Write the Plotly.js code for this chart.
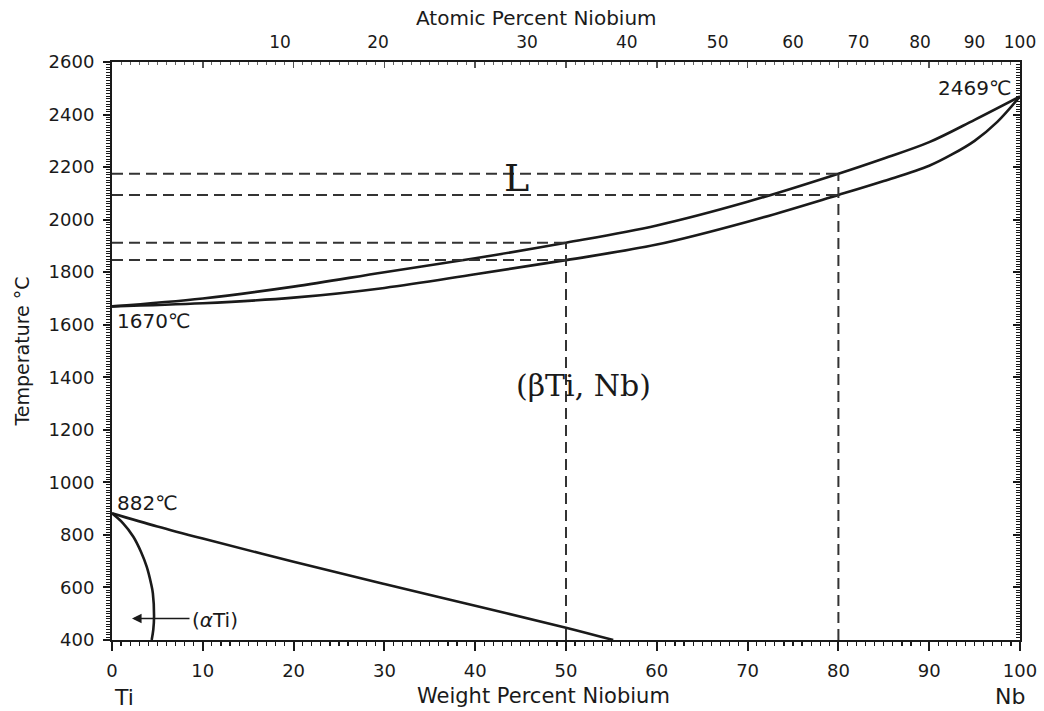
<!DOCTYPE html>
<html>
<head>
<meta charset="utf-8">
<script src="https://cdn.plot.ly/plotly-3.0.1.min.js"></script>
<style>
  html, body { margin: 0; padding: 0; background: #fff; }
  #chart { width: 1044px; height: 711px; }
</style>
</head>
<body>
<div id="chart"></div>
<script>
// Ti–Nb binary phase diagram (weight percent Nb vs temperature)

// Liquidus (upper curve)
const liquidusWt = [0, 10, 20, 30, 40, 50, 60, 70, 80, 85, 90, 95, 100];
const liquidusT  = [1670, 1700, 1745, 1800, 1853, 1912, 1978, 2068, 2175, 2233, 2295, 2380, 2469];

// Solidus (lower curve)
const solidusWt = [0, 10, 20, 30, 40, 50, 60, 70, 80, 85, 90, 92.5, 95, 97.5, 100];
const solidusT  = [1670, 1682, 1703, 1740, 1792, 1846, 1905, 1992, 2094, 2147, 2205, 2248, 2300, 2372, 2469];

// beta transus from 882 °C
const betaWt = [0, 5, 10, 20, 30, 40, 50, 55.2];
const betaT  = [882, 832, 786, 698, 613, 530, 447, 400];

// alpha solvus
const alphaWt = [0, 1.2, 2.35, 3.2, 3.82, 4.3, 4.5, 4.63, 4.55, 4.37];
const alphaT  = [882, 845, 793, 735, 679, 615, 578, 489, 440, 400];

// Alloy compositions with their liquidus / solidus temperatures
const alloyWt  = [50, 80];
const alloyLiq = [1912, 2175];
const alloySol = [1846, 2094];

// Axis ticks
const wtTicks = [0, 10, 20, 30, 40, 50, 60, 70, 80, 90, 100];
const tempTicks = [400, 600, 800, 1000, 1200, 1400, 1600, 1800, 2000, 2200, 2400, 2600];
const atomicLabels = ['10', '20', '30', '40', '50', '60', '70', '80', '90', '100'];
const atomicTickPos = [18.5, 29.3, 45.7, 56.7, 66.7, 75.0, 82.2, 89.0, 95.0, 100];

const INK = '#1a1a1a';
const SANS = 'DejaVu Sans, Liberation Sans, Arial, sans-serif';
const SERIF = 'DejaVu Serif, Liberation Serif, serif';

// Dashed guide lines: horizontals from the T axis to each alloy, verticals down to 400 °C
const guideX = [], guideY = [];
alloyWt.forEach((c, i) => {
  guideX.push(0, c, null, 0, c, null, c, c, null);
  guideY.push(alloyLiq[i], alloyLiq[i], null, alloySol[i], alloySol[i], null, 400, alloyLiq[i], null);
});

const solidLine = { color: INK, width: 2.6, shape: 'spline', smoothing: 1 };

const traces = [
  { x: liquidusWt, y: liquidusT, mode: 'lines', line: solidLine, hoverinfo: 'skip' },
  { x: solidusWt, y: solidusT, mode: 'lines', line: solidLine, hoverinfo: 'skip' },
  { x: betaWt, y: betaT, mode: 'lines', line: solidLine, hoverinfo: 'skip' },
  { x: alphaWt, y: alphaT, mode: 'lines', line: solidLine, hoverinfo: 'skip' },
  { x: guideX, y: guideY, mode: 'lines', connectgaps: false,
    line: { color: '#333', width: 2, dash: '11px,6px' }, hoverinfo: 'skip' },
  // carriers for the secondary axes
  { x: [null], y: [null], xaxis: 'x2', yaxis: 'y', mode: 'lines', hoverinfo: 'skip' },
  { x: [null], y: [null], xaxis: 'x3', yaxis: 'y', mode: 'lines', hoverinfo: 'skip' },
  { x: [null], y: [null], xaxis: 'x', yaxis: 'y2', mode: 'lines', hoverinfo: 'skip' }
];

const tickFont = { family: SANS, size: 18, color: INK };

const layout = {
  width: 1044, height: 711,
  margin: { l: 112, r: 24, t: 62, b: 71 },
  paper_bgcolor: '#fff', plot_bgcolor: '#fff',
  showlegend: false,
  xaxis: {
    range: [0, 100], autorange: false, fixedrange: true,
    tickmode: 'array', tickvals: wtTicks,
    ticks: 'outside', ticklen: 9, tickwidth: 2, tickcolor: INK,
    minor: { dtick: 1, ticks: 'outside', ticklen: 4, tickwidth: 1.2, tickcolor: INK, showgrid: false },
    showline: true, linewidth: 2, linecolor: INK, showgrid: false, zeroline: false,
    tickfont: tickFont, ticklabelstandoff: 4
  },
  xaxis2: {
    overlaying: 'x', side: 'top', anchor: 'y',
    range: [0, 100], autorange: false, fixedrange: true,
    tickmode: 'array', tickvals: wtTicks, showticklabels: false,
    ticks: 'inside', ticklen: 6, tickwidth: 1.5, tickcolor: '#555',
    minor: { dtick: 1, ticks: 'inside', ticklen: 2.5, tickwidth: 1, tickcolor: '#666', showgrid: false },
    showline: true, linewidth: 2, linecolor: INK, showgrid: false, zeroline: false
  },
  xaxis3: {
    overlaying: 'x', side: 'top', anchor: 'y',
    range: [0, 100], autorange: false, fixedrange: true,
    tickmode: 'array', tickvals: atomicTickPos, ticktext: atomicLabels,
    ticks: 'outside', ticklen: 6, tickcolor: 'rgba(0,0,0,0)',
    showline: false, showgrid: false, zeroline: false,
    tickfont: { family: SANS, size: 17, color: INK }
  },
  yaxis: {
    range: [400, 2600], autorange: false, fixedrange: true,
    tickmode: 'array', tickvals: tempTicks,
    ticks: 'outside', ticklen: 7, tickwidth: 2, tickcolor: INK,
    minor: { dtick: 10, ticks: 'outside', ticklen: 4, tickwidth: 1, tickcolor: INK, showgrid: false },
    showline: true, linewidth: 2, linecolor: INK, showgrid: false, zeroline: false,
    tickfont: tickFont, ticklabelstandoff: 5,
    title: { text: 'Temperature °C', font: { family: SANS, size: 19, color: INK }, standoff: 14 }
  },
  yaxis2: {
    overlaying: 'y', side: 'right', anchor: 'x',
    range: [400, 2600], autorange: false, fixedrange: true,
    tickmode: 'array', tickvals: tempTicks, showticklabels: false,
    ticks: 'inside', ticklen: 7, tickwidth: 2, tickcolor: INK,
    minor: { dtick: 10, ticks: 'inside', ticklen: 4, tickwidth: 1, tickcolor: INK, showgrid: false },
    showline: true, linewidth: 2, linecolor: INK, showgrid: false, zeroline: false
  },
  annotations: [
    { text: 'Atomic Percent Niobium', xref: 'x', yref: 'paper', x: 46.7, y: 1.076,
      showarrow: false, font: { family: SANS, size: 20, color: INK }, xanchor: 'center', yanchor: 'middle' },
    { text: 'Weight Percent Niobium', xref: 'x', yref: 'paper', x: 47.5, y: -0.097,
      showarrow: false, font: { family: SANS, size: 21, color: INK }, xanchor: 'center', yanchor: 'middle' },
    { text: 'Ti', xref: 'x', yref: 'paper', x: 1.3, y: -0.1,
      showarrow: false, font: { family: SANS, size: 22, color: INK }, xanchor: 'center', yanchor: 'middle' },
    { text: 'Nb', xref: 'x', yref: 'paper', x: 98.9, y: -0.097,
      showarrow: false, font: { family: SANS, size: 22, color: INK }, xanchor: 'center', yanchor: 'middle' },
    { text: 'L', xref: 'x', yref: 'y', x: 44.6, y: 2158,
      showarrow: false, font: { family: SERIF, size: 38, color: INK }, xanchor: 'center', yanchor: 'middle' },
    { text: '(βTi, Nb)', xref: 'x', yref: 'y', x: 51.9, y: 1370,
      showarrow: false, font: { family: SERIF, size: 30, color: INK }, xanchor: 'center', yanchor: 'middle' },
    { text: '1670℃', xref: 'x', yref: 'y', x: 0.3, y: 1614,
      showarrow: false, font: { family: SANS, size: 20, color: INK }, xanchor: 'left', yanchor: 'middle' },
    { text: '2469℃', xref: 'x', yref: 'y', x: 99.2, y: 2501,
      showarrow: false, font: { family: SANS, size: 20, color: INK }, xanchor: 'right', yanchor: 'middle' },
    { text: '882℃', xref: 'x', yref: 'y', x: 0.3, y: 921,
      showarrow: false, font: { family: SANS, size: 20, color: INK }, xanchor: 'left', yanchor: 'middle' },
    { text: '(<i>α</i>Ti)', xref: 'x', yref: 'y', x: 8.6, y: 478,
      showarrow: false, font: { family: SANS, size: 20, color: INK }, xanchor: 'left', yanchor: 'middle' },
    { text: '', xref: 'x', yref: 'y', x: 2.2, y: 482, axref: 'x', ayref: 'y', ax: 8.7, ay: 482,
      showarrow: true, arrowhead: 2, arrowsize: 1.2, arrowwidth: 1.6, arrowcolor: INK, standoff: 0 }
  ]
};

Plotly.newPlot('chart', traces, layout, { staticPlot: true, displayModeBar: false });
</script>
</body>
</html>
